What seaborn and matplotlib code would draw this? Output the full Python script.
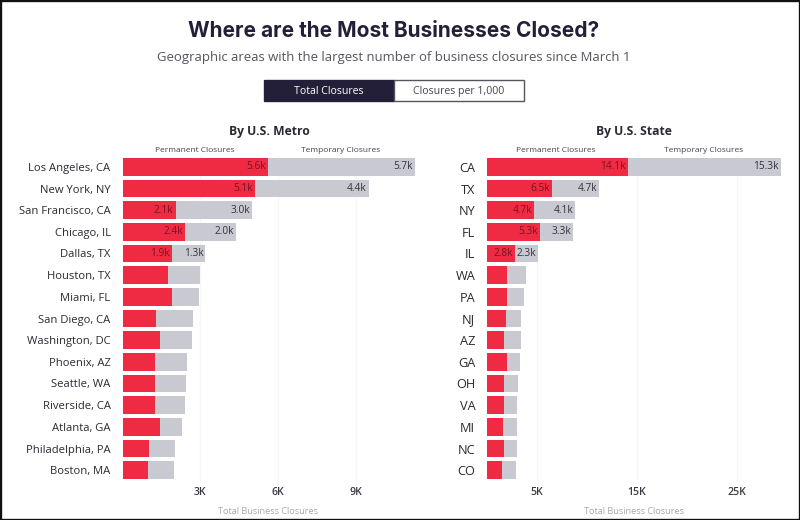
import matplotlib
matplotlib.use("Agg")
import matplotlib.pyplot as plt
from matplotlib.patches import Rectangle
import numpy as np
import pandas as pd
import seaborn as sns

metros = ["Los Angeles, CA", "New York, NY", "San Francisco, CA", "Chicago, IL", "Dallas, TX",
          "Houston, TX", "Miami, FL", "San Diego, CA", "Washington, DC", "Phoenix, AZ",
          "Seattle, WA", "Riverside, CA", "Atlanta, GA", "Philadelphia, PA", "Boston, MA"]
metro_perm = [5.6, 5.1, 2.05, 2.4, 1.9, 1.76, 1.92, 1.31, 1.43, 1.27, 1.27, 1.24, 1.43, 1.04, 0.99]
metro_temp = [5.7, 4.4, 2.95, 2.0, 1.3, 1.23, 1.04, 1.42, 1.27, 1.23, 1.19, 1.18, 0.87, 0.98, 1.00]
metro_perm_labels = ["5.6k", "5.1k", "2.1k", "2.4k", "1.9k"]
metro_temp_labels = ["5.7k", "4.4k", "3.0k", "2.0k", "1.3k"]

states = ["CA", "TX", "NY", "FL", "IL", "WA", "PA", "NJ", "AZ", "GA", "OH", "VA", "MI", "NC", "CO"]
state_perm = [14.1, 6.5, 4.7, 5.3, 2.8, 2.0, 2.0, 1.87, 1.64, 2.0, 1.64, 1.71, 1.54, 1.71, 1.44]
state_temp = [15.3, 4.7, 4.1, 3.3, 2.3, 1.85, 1.71, 1.47, 1.70, 1.28, 1.44, 1.30, 1.40, 1.23, 1.40]
state_perm_labels = ["14.1k", "6.5k", "4.7k", "5.3k", "2.8k"]
state_temp_labels = ["15.3k", "4.7k", "4.1k", "3.3k", "2.3k"]

metro_ticks = [3, 6, 9]
metro_tick_labels = ["3K", "6K", "9K"]
state_ticks = [5, 15, 25]
state_tick_labels = ["5K", "15K", "25K"]

RED = "#ee2b43"
GREY = "#c9c9d1"
NAVY = "#241f38"
W, H = 800, 520

sns.set_theme(style="white")
plt.rcParams["font.family"] = ["Open Sans", "DejaVu Sans"]

fig = plt.figure(figsize=(W / 100, H / 100), dpi=100, facecolor="white")


def px(x, y):
    return x / W, 1 - y / H


def label(x, y, s, **kw):
    fx, fy = px(x, y)
    fig.text(fx, fy, s, ha=kw.pop("ha", "center"), va="center", **kw)


def panel(left, right, xmax, cats, perm, temp, perm_labels, temp_labels, ticks, tick_labels, cat_size):
    ax = fig.add_axes([left / W, 1 - 481 / H, (right - left) / W, 325 / H])
    df = pd.DataFrame({"cat": cats, "perm": perm, "temp": temp})
    df["total"] = df["perm"] + df["temp"]
    sns.barplot(data=df, x="total", y="cat", color=GREY, saturation=1, width=0.83, ax=ax,
                zorder=2, linewidth=0)
    sns.barplot(data=df, x="perm", y="cat", color=RED, saturation=1, width=0.83, ax=ax,
                zorder=3, linewidth=0)
    ax.set_xlim(0, xmax)
    ax.set_xticks(ticks)
    ax.set_xticklabels(tick_labels, fontsize=7.6, color="#3a3a44", fontweight="semibold")
    ax.xaxis.grid(True, color="#f7f7f8", lw=1, zorder=0)
    ax.set_axisbelow(True)
    ax.set_xlabel("")
    ax.set_ylabel("")
    ax.tick_params(axis="x", length=0, pad=4.5)
    ax.tick_params(axis="y", length=0, pad=8.6, labelsize=cat_size, labelcolor="#2a2a33")
    sns.despine(ax=ax, left=True, bottom=True)
    for i, s in enumerate(perm_labels):
        ax.annotate(s, (df["perm"][i], i), xytext=(-1.4, 0), textcoords="offset points",
                    ha="right", va="center", fontsize=7.3, color="#7a1222", zorder=5)
    for i, s in enumerate(temp_labels):
        ax.annotate(s, (df["total"][i], i), xytext=(-1.4, 0), textcoords="offset points",
                    ha="right", va="center", fontsize=7.3, color="#33333d", zorder=5)
    return ax


panel(122.5, 415.5, 11.31, metros, metro_perm, metro_temp, metro_perm_labels, metro_temp_labels,
      metro_ticks, metro_tick_labels, 8.1)
panel(487.3, 780.5, 29.4, states, state_perm, state_temp, state_perm_labels, state_temp_labels,
      state_ticks, state_tick_labels, 9.2)

label(394, 31, "Where are the Most Businesses Closed?", fontsize=15.05, fontweight="bold",
      color=NAVY, family=["Inter", "DejaVu Sans"])
label(393.5, 58, "Geographic areas with the largest number of business closures since March 1",
      fontsize=9.46, color="#55555f")

# toggle
for x0, x1, fc, ec in [(264, 394, NAVY, NAVY), (394, 523.5, "white", "#55555f")]:
    fig.add_artist(Rectangle(px(x0, 101), (x1 - x0) / W, 21 / H, transform=fig.transFigure,
                             facecolor=fc, edgecolor=ec, lw=1))
label(329, 91.5, "Total Closures", fontsize=7.6, color="white")
label(459, 91.5, "Closures per 1,000", fontsize=7.6, color="#44444e")

label(269, 131.5, "By U.S. Metro", fontsize=8.7, fontweight="bold", color="#2a2a33")
label(634, 131.5, "By U.S. State", fontsize=8.7, fontweight="bold", color="#2a2a33")
for x, s in [(195, "Permanent Closures"), (341, "Temporary Closures"),
             (556, "Permanent Closures"), (704, "Temporary Closures")]:
    label(x, 150.5, s, fontsize=6, color="#44444e")
label(268, 511, "Total Business Closures", fontsize=6.6, color="#a8a8ae")
label(634, 511, "Total Business Closures", fontsize=6.6, color="#a8a8ae")

# picture frame
fig.add_artist(Rectangle((0, 0), 1, 1, transform=fig.transFigure, fill=False,
                         edgecolor="#111111", lw=2.4))

fig.savefig("out.png", dpi=100)
